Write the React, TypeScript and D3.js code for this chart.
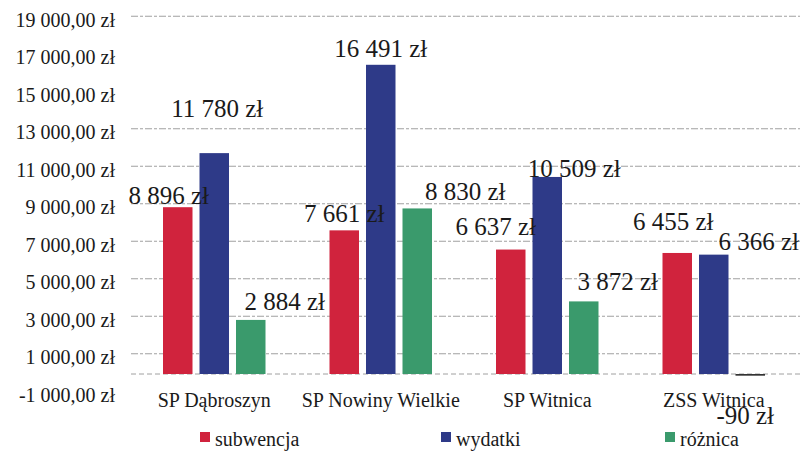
import React from "react";
import * as d3 from "d3";

const categories = ["SP Dąbroszyn", "SP Nowiny Wielkie", "SP Witnica", "ZSS Witnica"];
const seriesNames = ["subwencja", "wydatki", "różnica"];
const subwencja = [8896, 7661, 6637, 6455];
const wydatki = [11780, 16491, 10509, 6366];
const roznica = [2884, 8830, 3872, -90];
const yTicks = [-1000, 1000, 3000, 5000, 7000, 9000, 11000, 13000, 15000, 17000, 19000];
const visibleGrid = [19000, 13000, 11000, 9000, 7000, 5000, 3000, 1000];

// label offsets (layout only): [dx from bar center, dy from bar end]
const labelOffsets: [number, number][][] = [
  [[-9, -3], [3, -36], [34, -10]],
  [[0, -8], [0, -8], [48, -8]],
  [[-15, -15], [27, 0], [34, -11]],
  [[-4, -23], [45, -5], [-5, 48]],
];

const colors = ["#d0233d", "#2e3a88", "#3a9a6c"];
const W = 802;
const H = 452;
const FONT = '"Liberation Serif"';

const fmtTick = (v: number) => {
  const s = d3.format(",.2f")(Math.abs(v)).replace(/,/g, " ").replace(".", ",");
  return (v < 0 ? "-" : "") + s + " zł";
};
const fmtVal = (v: number) => {
  const s = d3.format(",.0f")(Math.abs(v)).replace(/,/g, " ");
  return (v < 0 ? "-" : "") + s + " zł";
};

export default function App() {
  const values = [subwencja, wydatki, roznica];
  const y = d3.scaleLinear().domain([-1000, 19000]).range([392.75, 17.75]);
  const x0 = d3.scaleBand<string>().domain(categories).range([131, 797]).padding(0);
  const groupW = 102.5;
  const off = (x0.bandwidth() - groupW) / 2;
  const x1 = d3
    .scaleBand<string>()
    .domain(seriesNames)
    .range([off, off + groupW])
    .paddingInner(7 / 36.5)
    .paddingOuter(0);

  const legendX = [200, 441, 665];
  const ts = { fontFamily: FONT };

  return (
    <svg width={W} height={H} style={{ position: "absolute", left: 0, top: 0, background: "#fff" }}>
      <rect x={0} y={0} width={W} height={H} fill="#fff" />
      {visibleGrid.map((t) => (
        <line
          key={"g" + t}
          x1={131}
          x2={800}
          y1={y(t) - 1.5}
          y2={y(t) - 1.5}
          stroke="#8a8a8a"
          strokeWidth={1}
          strokeDasharray="7,2,3,2"
          opacity={0.8}
        />
      ))}
      <line x1={131} x2={800} y1={y(0)} y2={y(0)} stroke="#8a8a8a" strokeDasharray="5,3" opacity={0.8} />
      {yTicks.map((t) => (
        <text key={"t" + t} x={115} y={y(t) + 9} textAnchor="end" fontSize={20} fill="#1a1a1a" style={ts}>
          {fmtTick(t)}
        </text>
      ))}
      {categories.map((c, ci) =>
        seriesNames.map((s, si) => {
          const v = values[si][ci];
          const bx = (x0(c) as number) + (x1(s) as number);
          const top = y(Math.max(0, v));
          const h = Math.max(1.5, Math.abs(y(v) - y(0)));
          return (
            <rect
              key={c + s}
              x={bx}
              y={top}
              width={x1.bandwidth()}
              height={h}
              fill={v < 0 ? "#333" : colors[si]}
            />
          );
        })
      )}
      {categories.map((c, ci) =>
        seriesNames.map((s, si) => {
          const v = values[si][ci];
          const cx = (x0(c) as number) + (x1(s) as number) + x1.bandwidth() / 2;
          const [dx, dy] = labelOffsets[ci][si];
          return (
            <text
              key={"l" + c + s}
              x={cx + dx}
              y={y(v) + dy}
              textAnchor="middle"
              fontSize={25}
              fill="#1a1a1a"
              style={ts}
            >
              {fmtVal(v)}
            </text>
          );
        })
      )}
      {categories.map((c) => (
        <text
          key={"c" + c}
          x={(x0(c) as number) + x0.bandwidth() / 2}
          y={407}
          textAnchor="middle"
          fontSize={20}
          fill="#1a1a1a"
          style={ts}
        >
          {c}
        </text>
      ))}
      {seriesNames.map((s, i) => (
        <g key={"lg" + s}>
          <rect x={legendX[i]} y={432} width={10} height={10} fill={colors[i]} />
          <text x={legendX[i] + 15} y={446} fontSize={20} fill="#1a1a1a" style={ts}>
            {s}
          </text>
        </g>
      ))}
    </svg>
  );
}
